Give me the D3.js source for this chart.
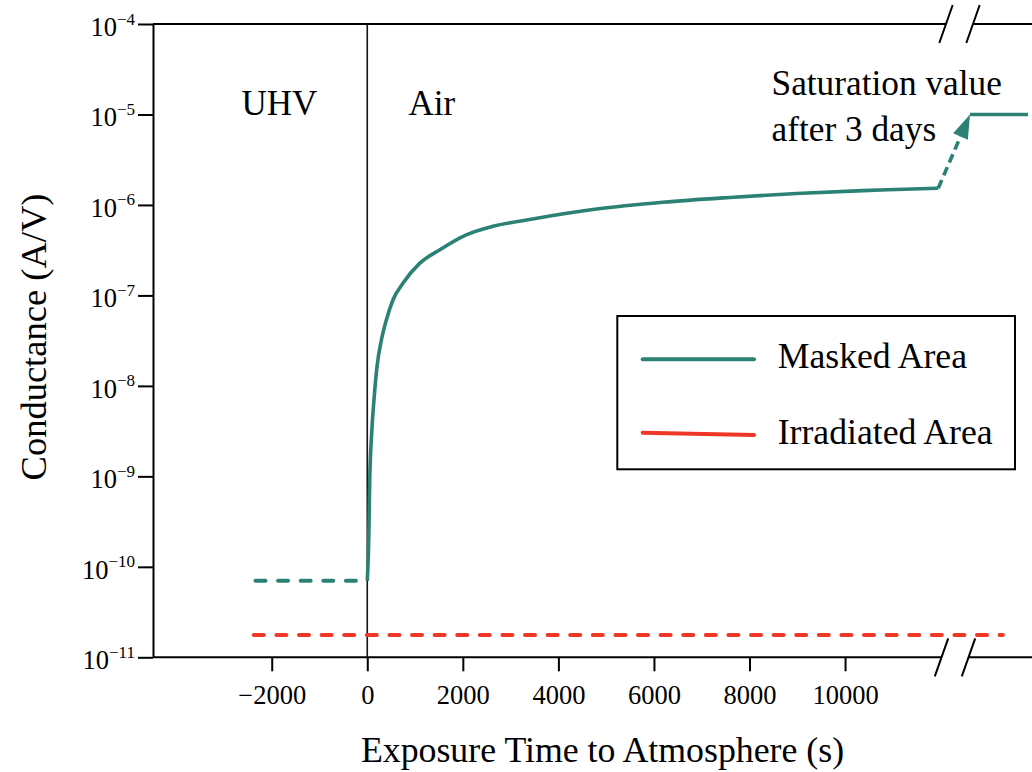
<!DOCTYPE html>
<html>
<head>
<meta charset="utf-8">
<script src="https://cdn.jsdelivr.net/npm/d3@7"></script>
<style>
  body { margin: 0; background: #fff; }
  svg text { font-family: "Liberation Serif", "Times New Roman", serif; fill: #000; }
</style>
</head>
<body>
<div id="chart"></div>
<script>
// data: [time (s), conductance (A/V)]
const maskedUHV = [[-2340, 7.0e-11], [0, 7.0e-11]];
const maskedAir = [
  [0, 7.0e-11], [33, 2.34e-10], [50, 8.4e-10], [92, 3.0e-9], [140, 7.0e-9],
  [203, 1.63e-8], [295, 3.2e-8], [399, 5.35e-8], [537, 8.9e-8], [746, 1.36e-7],
  [1095, 2.26e-7], [1513, 3.18e-7], [2071, 4.66e-7], [2628, 5.8e-7], [3400, 6.9e-7],
  [4797, 9.0e-7], [6190, 1.07e-6], [7586, 1.21e-6], [8981, 1.34e-6],
  [10374, 1.44e-6], [11073, 1.48e-6], [11950, 1.53e-6]
];
const saturationJump = [[11950, 1.53e-6], [259200, 1e-5]];  // after 3 days
const saturation = [[259200, 1e-5], [340000, 1e-5]];
const irradiated = [[-2375, 1.76e-11], [305000, 1.76e-11]];

const xTicks = [-2000, 0, 2000, 4000, 6000, 8000, 10000];
const yExponents = [-4, -5, -6, -7, -8, -9, -10, -11];
const legendItems = ["Masked Area", "Irradiated Area"];

const width = 1032;
const height = 772;
const teal = "#2b8274";
const red = "#ef3727";

const svg = d3.select("#chart")
  .append("svg")
  .attr("width", width)
  .attr("height", height);

// broken x axis: linear up to the break, then a short piece for "after 3 days"
const x = d3.scaleLinear()
  .domain([-4485, 12050, 259200, 345600])
  .range([153, 943, 970, 1032]);

const y = d3.scaleLog()
  .domain([1e-11, 1e-4])
  .range([657.3, 24]);

const line = d3.line()
  .x(d => x(d[0]))
  .y(d => y(d[1]));

const yTop = y(1e-4);
const yBot = y(1e-11);

// y axis
const yAxis = svg.append("g")
  .attr("transform", `translate(${x(-4485)},0)`)
  .call(d3.axisLeft(y)
    .tickValues(yExponents.map(e => Math.pow(10, e)))
    .tickSize(15)
    .tickSizeOuter(0)
    .tickFormat(""));
yAxis.selectAll("path, line").attr("stroke", "#000").attr("stroke-width", 2);

yExponents.forEach(e => {
  const t = svg.append("text")
    .attr("x", 135)
    .attr("y", y(Math.pow(10, e)) + 12)
    .attr("text-anchor", "end")
    .attr("font-size", "26.5px");
  t.append("tspan").text("10");
  t.append("tspan")
    .attr("dy", -11.5)
    .attr("font-size", "17px")
    .text("\u2212" + Math.abs(e));
});

// x axis (ticks only; spine drawn in two pieces)
const xAxis = svg.append("g")
  .attr("transform", `translate(0,${yBot})`)
  .call(d3.axisBottom(x)
    .tickValues(xTicks)
    .tickSize(14)
    .tickSizeOuter(0)
    .tickFormat(d => d < 0 ? "\u2212" + Math.abs(d) : d));
xAxis.select(".domain").remove();
xAxis.selectAll("line").attr("stroke", "#000").attr("stroke-width", 2);
xAxis.selectAll("text")
  .attr("y", 46.5)
  .attr("dy", 0)
  .attr("font-size", "26.5px")
  .attr("font-family", "Liberation Serif, serif")
  .attr("fill", "#000");

// spines with break marks
const spines = [
  [153, 946, yTop], [973, width, yTop],
  [153, 941, yBot], [969, width, yBot]
];
spines.forEach(s => {
  svg.append("line")
    .attr("x1", s[0]).attr("x2", s[1])
    .attr("y1", s[2]).attr("y2", s[2])
    .attr("stroke", "#000")
    .attr("stroke-width", 2);
});
const slashes = [[946, yTop], [973, yTop], [941.5, yBot], [968.5, yBot]];
slashes.forEach(s => {
  svg.append("line")
    .attr("x1", s[0] - 6.7).attr("y1", s[1] + 19)
    .attr("x2", s[0] + 6.7).attr("y2", s[1] - 19)
    .attr("stroke", "#000")
    .attr("stroke-width", 2);
});

// UHV / Air divider
svg.append("line")
  .attr("x1", x(0)).attr("x2", x(0))
  .attr("y1", yTop).attr("y2", yBot)
  .attr("stroke", "#111")
  .attr("stroke-width", 1.6);

// data lines
svg.append("path")
  .datum(irradiated)
  .attr("d", line)
  .attr("fill", "none")
  .attr("stroke", red)
  .attr("stroke-width", 4)
  .attr("stroke-linecap", "round")
  .attr("stroke-dasharray", "10,12.6");

svg.append("path")
  .datum(maskedUHV)
  .attr("d", line)
  .attr("fill", "none")
  .attr("stroke", teal)
  .attr("stroke-width", 4)
  .attr("stroke-linecap", "round")
  .attr("stroke-dasharray", "10,12.6");

svg.append("path")
  .datum(maskedAir)
  .attr("d", line.curve(d3.curveMonotoneX))
  .attr("fill", "none")
  .attr("stroke", teal)
  .attr("stroke-width", 3.6)
  .attr("stroke-linejoin", "round");
line.curve(d3.curveLinear);

// dashed arrow up to the saturation value
const p0 = [x(saturationJump[0][0]), y(saturationJump[0][1])];
const p1 = [x(saturationJump[1][0]), y(saturationJump[1][1])];
const len = Math.hypot(p1[0] - p0[0], p1[1] - p0[1]);
const ux = (p1[0] - p0[0]) / len, uy = (p1[1] - p0[1]) / len;
const headLen = 24, headHalf = 8;
const base = [p1[0] - ux * headLen, p1[1] - uy * headLen];

svg.append("line")
  .attr("x1", p0[0]).attr("y1", p0[1])
  .attr("x2", base[0]).attr("y2", base[1])
  .attr("stroke", teal)
  .attr("stroke-width", 3.6)
  .attr("stroke-dasharray", "9,5");

svg.append("path")
  .attr("d", `M${p1[0]},${p1[1]}L${base[0] - uy * headHalf},${base[1] + ux * headHalf}L${base[0] + uy * headHalf},${base[1] - ux * headHalf}Z`)
  .attr("fill", teal);

svg.append("path")
  .datum(saturation)
  .attr("d", line)
  .attr("fill", "none")
  .attr("stroke", teal)
  .attr("stroke-width", 3.6);

// annotations
svg.append("text").attr("x", 241.5).attr("y", 115).attr("font-size", "35px").text("UHV");
svg.append("text").attr("x", 408.5).attr("y", 115).attr("font-size", "35px").text("Air");
svg.append("text").attr("x", 771.5).attr("y", 95).attr("font-size", "35.3px").text("Saturation value");
svg.append("text").attr("x", 771.5).attr("y", 140.5).attr("font-size", "35.3px").text("after 3 days");

// axis titles
svg.append("text")
  .attr("x", 602.5)
  .attr("y", 761.5)
  .attr("text-anchor", "middle")
  .attr("font-size", "35.8px")
  .text("Exposure Time to Atmosphere (s)");

svg.append("text")
  .attr("transform", "translate(46,337) rotate(-90)")
  .attr("text-anchor", "middle")
  .attr("font-size", "36.5px")
  .text("Conductance (A/V)");

// legend
const legend = svg.append("g").attr("transform", "translate(617.3,316)");
legend.append("rect")
  .attr("width", 397.7)
  .attr("height", 153.3)
  .attr("fill", "#fff")
  .attr("stroke", "#000")
  .attr("stroke-width", 2);

legend.append("line")
  .attr("x1", 25.4).attr("x2", 136.7)
  .attr("y1", 43.3).attr("y2", 43.3)
  .attr("stroke", teal)
  .attr("stroke-width", 4)
  .attr("stroke-linecap", "round");
legend.append("line")
  .attr("x1", 25.4).attr("x2", 136.7)
  .attr("y1", 116.7).attr("y2", 119)
  .attr("stroke", red)
  .attr("stroke-width", 4)
  .attr("stroke-linecap", "round");

legendItems.forEach((name, i) => {
  legend.append("text")
    .attr("x", 160.4)
    .attr("y", i === 0 ? 52.3 : 128)
    .attr("font-size", "35.7px")
    .text(name);
});
</script>
</body>
</html>
